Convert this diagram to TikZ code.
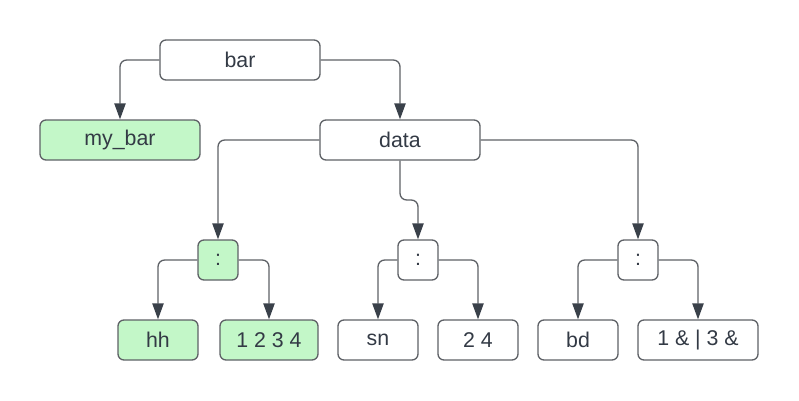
\documentclass[tikz,border=0pt]{standalone}
\usepackage{fontspec}
\setmainfont{Liberation Sans}
\usetikzlibrary{arrows.meta}

\definecolor{leafgreen}{HTML}{C3F7C8}
\definecolor{edgegray}{HTML}{5E6166}
\definecolor{tipdark}{HTML}{3A414A}
\definecolor{txtdark}{HTML}{333A45}

\tikzset{
    box/.style={draw=edgegray, line width=1pt, rounded corners=4.5pt, fill=white,
        minimum height=30pt, inner sep=0pt, text=txtdark,
        font=\fontsize{16}{19}\selectfont},
    leaf/.style={box, fill=leafgreen},
    link/.style={draw=edgegray, line width=1pt, rounded corners=5pt,
        -{Triangle[length=12pt, width=8.5pt, color=tipdark]}}
}

\begin{document}
\begin{tikzpicture}[x=0.75pt, y=-0.75pt]
    \useasboundingbox (0,0) rectangle (799,400);
    % top
    \node[box, minimum width=120pt] (bar) at (240,60) {bar};
    \node[leaf, minimum width=120pt] (mybar) at (120,140) {my\_bar};
    \node[box, minimum width=120pt] (data) at (400,140) {data};
    % colons
    \node[leaf, minimum width=30pt] (cA) at (218,260) {:};
    \node[box, minimum width=30pt] (cB) at (418,260) {:};
    \node[box, minimum width=30pt] (cC) at (638,260) {:};
    % leaves
    \node[leaf, minimum width=60pt] (hh) at (158,340) {hh};
    \node[leaf, minimum width=73.5pt] (nums) at (269,340) {1 2 3 4};
    \node[box, minimum width=60pt] (sn) at (378,340) {sn};
    \node[box, minimum width=60pt] (two) at (478,340) {2 4};
    \node[box, minimum width=60pt] (bd) at (578,340) {bd};
    \node[box, minimum width=90pt] (amp) at (698,340) {1 \& | 3 \&};
    \coordinate (jog) at (400,200);

    \draw[link] (bar.west) -| (mybar.north);
    \draw[link] (bar.east) -| (data.north);
    \draw[link] (data.west) -| (cA.north);
    \draw[link] (data.south) -- (jog) -| (cB.north);
    \draw[link] (data.east) -| (cC.north);
    \draw[link] (cA.west) -| (hh.north);
    \draw[link] (cA.east) -| (nums.north);
    \draw[link] (cB.west) -| (sn.north);
    \draw[link] (cB.east) -| (two.north);
    \draw[link] (cC.west) -| (bd.north);
    \draw[link] (cC.east) -| (amp.north);
\end{tikzpicture}
\end{document}
